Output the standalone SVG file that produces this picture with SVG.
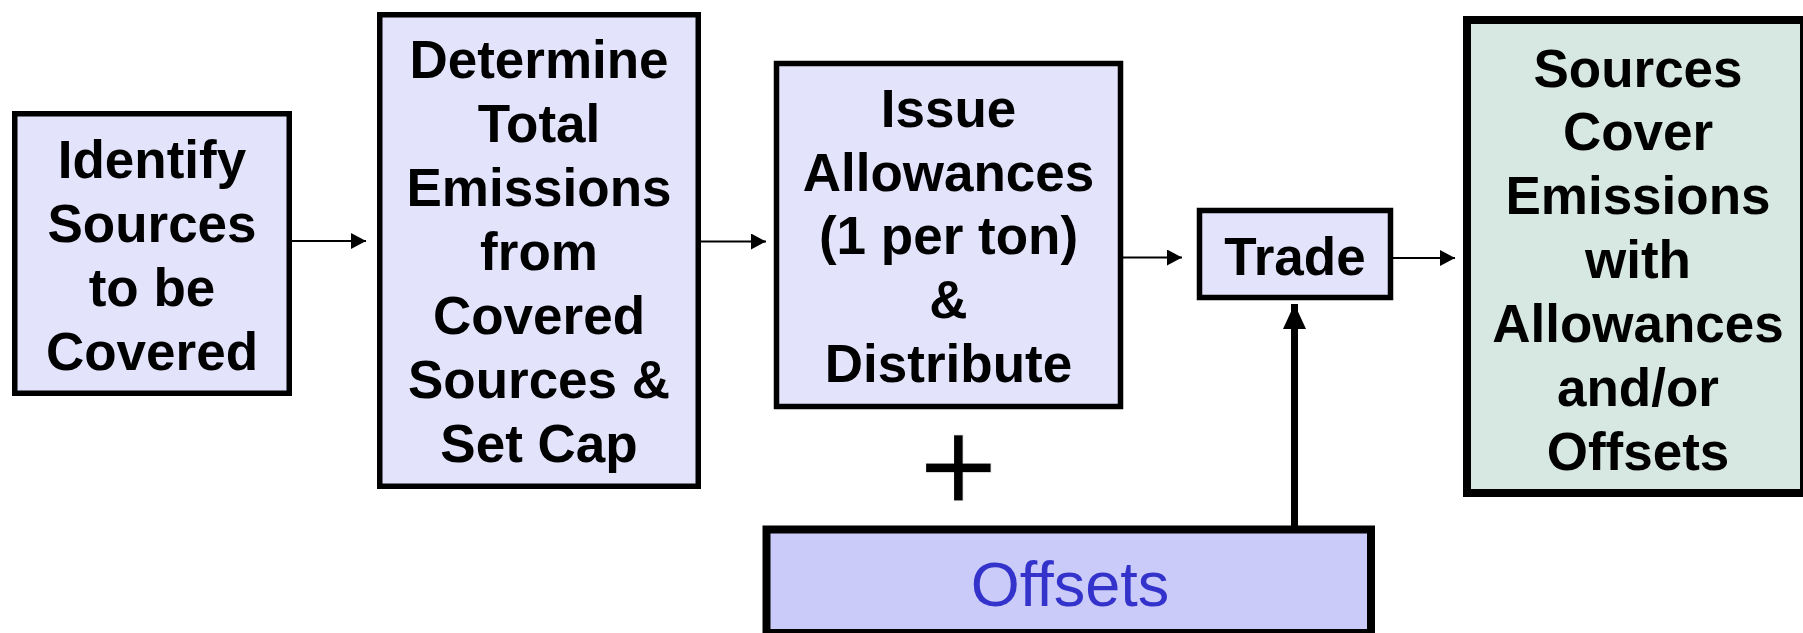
<svg xmlns="http://www.w3.org/2000/svg" width="1803" height="633" viewBox="0 0 1803 633">
  <style>
    .box { fill: #E3E3FC; stroke: #000; stroke-width: 5.5; }
    .lbl { font-family: "Liberation Sans", Arial, sans-serif; font-weight: bold; font-size: 53px; fill: #000; text-anchor: middle; }
    .thin { stroke: #000; stroke-width: 2; fill: none; }
    .thick { stroke: #000; stroke-width: 7; fill: none; }
  </style>
  <defs>
    <marker id="ah" markerUnits="userSpaceOnUse" markerWidth="16" markerHeight="16" refX="15" refY="8" orient="auto">
      <path d="M0,0 L15,8 L0,16 Z" fill="#000"/>
    </marker>
    <marker id="ahBig" markerUnits="userSpaceOnUse" markerWidth="26" markerHeight="24" refX="25" refY="11.5" orient="auto">
      <path d="M0,0 L25,11.5 L0,23 Z" fill="#000"/>
    </marker>
  </defs>
  <rect width="1803" height="633" fill="#fff"/>

  <g id="identify">
    <rect class="box" x="14.75" y="113.75" width="274.5" height="279.5"/>
    <text class="lbl" x="152" y="177.5">Identify</text>
    <text class="lbl" x="152" y="241.5">Sources</text>
    <text class="lbl" x="152" y="305.5">to be</text>
    <text class="lbl" x="152" y="369.5">Covered</text>
  </g>

  <g id="determine">
    <rect class="box" x="379.75" y="14.75" width="318.5" height="471.5"/>
    <text class="lbl" x="539" y="77.5">Determine</text>
    <text class="lbl" x="539" y="141.5">Total</text>
    <text class="lbl" x="539" y="205.5">Emissions</text>
    <text class="lbl" x="539" y="269.5">from</text>
    <text class="lbl" x="539" y="333.5">Covered</text>
    <text class="lbl" x="539" y="397.5">Sources &amp;</text>
    <text class="lbl" x="539" y="461.5">Set Cap</text>
  </g>

  <g id="issue">
    <rect class="box" x="776.5" y="63.5" width="344" height="343"/>
    <text class="lbl" x="948.5" y="127">Issue</text>
    <text class="lbl" x="948.5" y="190.7">Allowances</text>
    <text class="lbl" x="948.5" y="254.4">(1 per ton)</text>
    <text class="lbl" x="948.5" y="318.1">&amp;</text>
    <text class="lbl" x="948.5" y="381.8">Distribute</text>
  </g>

  <g id="trade">
    <rect class="box" x="1199.5" y="210.5" width="191" height="87"/>
    <text class="lbl" x="1295" y="274.5">Trade</text>
  </g>

  <g id="cover">
    <rect x="1467" y="20" width="337" height="473" fill="#D7E7E1" stroke="#000" stroke-width="8"/>
    <text class="lbl" x="1638" y="86.5">Sources</text>
    <text class="lbl" x="1638" y="150.4">Cover</text>
    <text class="lbl" x="1638" y="214.3">Emissions</text>
    <text class="lbl" x="1638" y="278.2">with</text>
    <text class="lbl" x="1638" y="342.1">Allowances</text>
    <text class="lbl" x="1638" y="406">and/or</text>
    <text class="lbl" x="1638" y="469.9">Offsets</text>
  </g>

  <g id="plus">
    <text x="958.5" y="513" font-family="Liberation Sans, Arial, sans-serif" font-size="135" text-anchor="middle" fill="#000" stroke="#fff" stroke-width="1">+</text>
  </g>

  <g id="offsets">
    <rect x="766.5" y="529.5" width="604.5" height="103.5" fill="#CBCBF9" stroke="#000" stroke-width="8"/>
    <text x="1070" y="605.5" font-family="Liberation Sans, Arial, sans-serif" font-size="63" text-anchor="middle" fill="#3333CC">Offsets</text>
  </g>

  <g id="connectors">
    <line class="thin" x1="287" y1="241" x2="366" y2="241" marker-end="url(#ah)"/>
    <line class="thin" x1="698" y1="241.5" x2="766" y2="241.5" marker-end="url(#ah)"/>
    <line class="thin" x1="1118" y1="257.5" x2="1182" y2="257.5" marker-end="url(#ah)"/>
    <line class="thin" x1="1391" y1="258" x2="1455" y2="258" marker-end="url(#ah)"/>
    <line class="thick" x1="1294.5" y1="526" x2="1294.5" y2="304" marker-end="url(#ahBig)"/>
  </g>
</svg>
